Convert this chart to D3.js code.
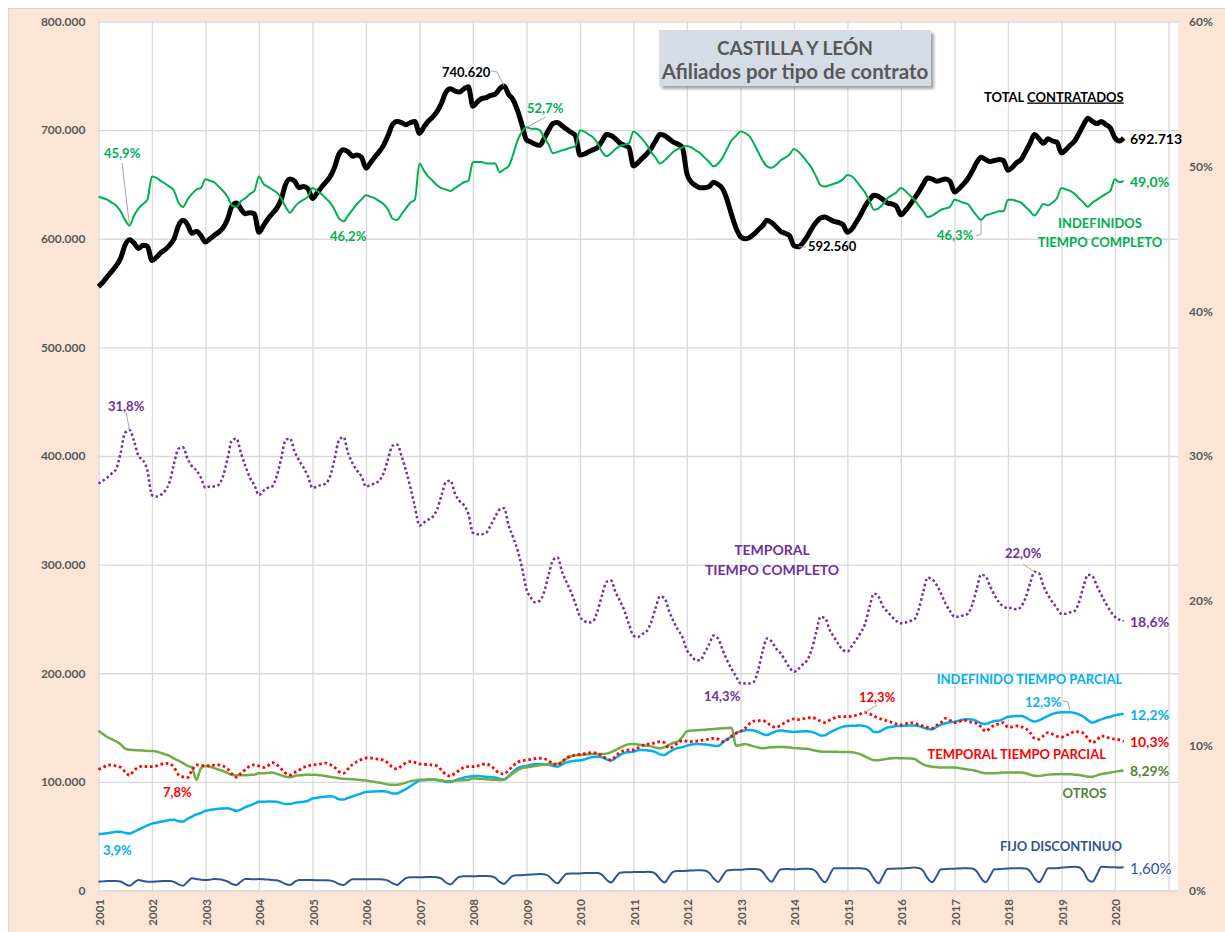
<!DOCTYPE html>
<html lang="es">
<head>
<meta charset="utf-8">
<title>Castilla y León - Afiliados por tipo de contrato</title>
<script src="https://cdn.jsdelivr.net/npm/d3@7"></script>
<style>
  body { margin: 0; background: #fff; }
  svg text { font-family: Lato, "Open Sans", sans-serif; }
</style>
</head>
<body>
<div id="chart"></div>
<script>
// -------------------------------------------------------------
// Datos mensuales, enero 2001 - marzo 2020
// -------------------------------------------------------------

// Total contratados (miles de afiliados), eje izquierdo
var totalContratados = [
  556, 560, 565, 570, 575, 582, 594, 599, 596, 591, 594, 593,
  580, 583, 587, 590, 594, 600, 612, 617, 613, 605, 607, 603,
  597, 600, 603, 606, 610, 618, 630, 633, 627, 623, 624, 623,
  606, 612, 618, 623, 628, 636, 650, 655, 653, 647, 648, 646,
  637, 642, 647, 652, 657, 666, 678, 682, 680, 676, 677, 675,
  665, 670, 675, 680, 686, 695, 705, 708, 707, 705, 707, 708,
  697, 703, 708, 712, 717, 725, 735, 738, 736, 735, 738, 740,
  722, 726, 729, 730, 732, 733, 738, 740.62, 733, 728, 718, 705,
  691, 689, 687, 686, 692, 700, 706, 707, 704, 701, 698, 695,
  677, 678, 680, 682, 684, 690, 696, 695, 692, 688, 686, 684,
  667, 670, 674, 678, 683, 690, 696, 695, 692, 689, 687, 684,
  660, 652, 649, 647, 647, 648, 652, 650, 646, 636, 622, 610,
  602, 600, 601, 604, 608, 612, 617, 615, 611, 607, 605, 603,
  593.5, 592.56, 596, 602, 609, 615, 619, 620, 618, 616, 615, 613,
  606, 609, 615, 622, 630, 636, 640, 639, 636, 633, 632, 630,
  622, 626, 631, 637, 643, 650, 656, 655, 653, 654, 655, 653,
  643, 646, 650, 655, 662, 670, 675, 673, 671, 672, 673, 672,
  663, 666, 670, 673, 680, 688, 696, 692, 688, 692, 690, 689,
  679, 682, 686, 690, 697, 705, 711, 708, 706, 708, 705, 702,
  693, 690, 692.713
];

// Porcentajes sobre el total (eje derecho)
var indefinidosTC = [
  47.9, 47.8, 47.7, 47.5, 47.3, 46.9, 46.3, 45.9, 46.6, 47.1, 47.4, 47.7,
  49.3, 49.2, 49.0, 48.8, 48.6, 48.3, 47.5, 47.2, 47.7, 48.1, 48.4, 48.5,
  49.1, 49.0, 48.9, 48.6, 48.3, 47.9, 47.3, 47.2, 47.6, 47.8, 48.1, 48.3,
  49.3, 48.8, 48.6, 48.4, 48.2, 47.8, 47.2, 46.8, 47.2, 47.5, 47.7, 47.9,
  48.5, 48.3, 48.1, 47.8, 47.5, 47.0, 46.4, 46.2, 46.6, 47.0, 47.4, 47.7,
  48.0, 47.9, 47.8, 47.6, 47.4, 47.0, 46.4, 46.3, 46.7, 47.1, 47.5, 47.7,
  50.2, 49.7, 49.3, 49.0, 48.7, 48.5, 48.4, 48.3, 48.5, 48.7, 48.9, 49.0,
  50.3, 50.3, 50.3, 50.2, 50.2, 50.2, 49.6, 49.8, 50.0, 50.8, 51.8, 52.4,
  52.7, 52.6, 52.6, 52.5, 52.0, 51.5, 50.9, 51.0, 51.1, 51.2, 51.3, 51.4,
  52.5, 52.4, 52.2, 52.0, 51.6, 51.0, 50.7, 50.9, 51.2, 51.4, 51.5, 51.6,
  52.4, 52.2, 51.9, 51.5, 51.0, 50.6, 50.2, 50.4, 50.7, 51.0, 51.2, 51.3,
  51.4, 51.3, 51.1, 50.9, 50.6, 50.3, 50.0, 50.2, 50.6, 51.2, 51.8, 52.1,
  52.4, 52.3, 52.1, 51.6, 51.0, 50.4, 50.0, 49.9, 50.1, 50.4, 50.6, 50.8,
  51.2, 51.0, 50.7, 50.3, 49.9, 49.3, 48.7, 48.6, 48.7, 48.8, 48.9, 49.1,
  49.4, 49.3, 49.0, 48.6, 48.2, 47.6, 47.0, 47.1, 47.4, 47.8, 48.0, 48.2,
  48.5, 48.3, 48.0, 47.7, 47.3, 46.9, 46.5, 46.6, 46.8, 47.0, 47.1, 47.2,
  47.7, 47.6, 47.5, 47.4, 47.0, 46.6, 46.3, 46.6, 46.7, 46.8, 46.9, 46.9,
  47.7, 47.7, 47.6, 47.5, 47.2, 46.9, 46.6, 47.0, 47.4, 47.3, 47.5, 47.8,
  48.5, 48.4, 48.3, 48.1, 47.8, 47.5, 47.2, 47.5, 47.7, 47.9, 48.1, 48.3,
  49.1, 48.9, 49.0
];

var temporalesTC = [
  28.1, 28.3, 28.5, 28.8, 29.1, 30.2, 31.6, 31.8, 31.0, 30.0, 29.7, 29.0,
  27.3, 27.2, 27.3, 27.6, 28.2, 29.5, 30.5, 30.6, 29.8, 29.3, 29.0, 28.5,
  27.8, 27.9, 27.9, 28.0, 28.6, 29.8, 31.1, 31.2, 30.2, 29.3, 28.5, 28.0,
  27.3, 27.6, 27.8, 27.9, 28.6, 29.8, 31.1, 31.2, 30.3, 29.7, 29.2, 28.6,
  27.8, 27.9, 28.0, 28.1, 28.6, 29.8, 31.1, 31.3, 30.2, 29.5, 29.0, 28.6,
  27.9, 28.0, 28.1, 28.3, 28.8, 29.8, 30.7, 30.8, 30.0, 29.0, 27.8, 26.5,
  25.2, 25.4, 25.6, 25.8, 26.3, 27.3, 28.2, 28.3, 27.4, 26.9, 26.6, 26.0,
  24.7, 24.6, 24.6, 24.7, 25.2, 25.8, 26.3, 26.4, 25.2, 24.4, 23.5, 22.3,
  20.8, 20.2, 19.9, 20.0, 20.6, 21.8, 22.8, 23.0, 22.0, 21.3, 20.6, 19.8,
  18.9, 18.6, 18.5, 18.6, 19.3, 20.4, 21.3, 21.4, 20.6, 20.0, 19.3, 18.4,
  17.6, 17.5, 17.7, 17.9, 18.5, 19.5, 20.3, 20.2, 19.3, 18.6, 18.0, 17.5,
  16.6, 16.2, 15.9, 15.9, 16.4, 17.0, 17.6, 17.4, 16.6, 15.9, 15.3, 14.8,
  14.3, 14.3, 14.3, 14.4, 15.2, 16.5, 17.4, 17.2, 16.7, 16.4, 15.9, 15.4,
  15.1, 15.3, 15.6, 15.9, 16.6, 17.8, 18.9, 18.8, 18.0, 17.5, 17.0, 16.6,
  16.5, 16.9, 17.3, 17.8, 18.4, 19.6, 20.5, 20.3, 19.6, 19.25, 18.9, 18.6,
  18.45, 18.5, 18.6, 18.7, 19.4, 20.6, 21.6, 21.5, 21.1, 20.5, 19.8, 19.3,
  18.9, 18.9, 19.0, 19.1, 19.7, 20.8, 21.8, 21.7, 21.0, 20.4, 19.9, 19.6,
  19.5, 19.5, 19.4, 19.6, 20.2, 21.2, 22.0, 21.9, 21.0, 20.4, 19.9, 19.5,
  19.1, 19.1, 19.2, 19.3, 19.9, 21.0, 21.8, 21.7, 21.0, 20.4, 19.8, 19.3,
  18.9, 18.7, 18.6
];

var indefinidosTP = [
  3.9, 3.92, 3.95, 4.0, 4.05, 4.05, 3.98, 3.93, 4.05, 4.2, 4.35, 4.5,
  4.62, 4.68, 4.74, 4.8, 4.86, 4.88, 4.78, 4.76, 4.95, 5.1, 5.25, 5.35,
  5.5, 5.56, 5.6, 5.64, 5.66, 5.68, 5.6, 5.5, 5.6, 5.75, 5.88, 6.0,
  6.12, 6.13, 6.14, 6.14, 6.13, 6.05, 5.97, 5.97, 6.05, 6.1, 6.13, 6.2,
  6.35, 6.4, 6.45, 6.48, 6.5, 6.45, 6.3, 6.28, 6.4, 6.5, 6.6, 6.7,
  6.8, 6.82, 6.84, 6.85, 6.85, 6.8, 6.7, 6.7, 6.85, 7.0, 7.2, 7.4,
  7.6, 7.62, 7.64, 7.65, 7.62, 7.58, 7.5, 7.5, 7.6, 7.7, 7.8, 7.85,
  7.9, 7.9, 7.88, 7.85, 7.83, 7.8, 7.72, 7.68, 7.9, 8.2, 8.45, 8.55,
  8.6, 8.68, 8.72, 8.74, 8.72, 8.68, 8.6, 8.55, 8.7, 8.85, 8.92, 8.96,
  8.98, 9.05, 9.15, 9.22, 9.24, 9.2, 9.05, 8.96, 9.15, 9.35, 9.5, 9.55,
  9.59, 9.68, 9.7, 9.68, 9.65, 9.55, 9.4, 9.36, 9.55, 9.72, 9.85, 9.9,
  10.0, 10.08, 10.12, 10.1, 10.08, 10.05, 10.0, 9.98, 10.2, 10.45, 10.62, 10.85,
  11.0, 11.05, 11.08, 11.05, 10.95, 10.8, 10.74, 10.85, 11.0, 11.05, 11.0, 10.98,
  10.95, 10.97, 10.98, 11.0, 10.95, 10.85, 10.7, 10.72, 10.9, 11.05, 11.2, 11.3,
  11.35, 11.37, 11.38, 11.4, 11.35, 11.2, 10.95, 10.95, 11.1, 11.25, 11.3, 11.35,
  11.36, 11.38, 11.4, 11.4, 11.35, 11.25, 11.15, 11.13, 11.3, 11.45, 11.55, 11.62,
  11.66, 11.72, 11.8, 11.82, 11.8, 11.7, 11.55, 11.5, 11.6, 11.7, 11.73, 11.85,
  12.0, 12.02, 12.04, 12.05, 11.95, 11.77, 11.66, 11.75, 11.9, 12.05, 12.2, 12.28,
  12.3, 12.3, 12.3, 12.25, 12.15, 12.0, 11.75, 11.59, 11.7, 11.82, 11.92, 12.0,
  12.1, 12.15, 12.2
];

var temporalesTP = [
  8.37, 8.5, 8.65, 8.67, 8.6, 8.5, 8.2, 7.95, 8.3, 8.5, 8.6, 8.55,
  8.55, 8.6, 8.7, 8.78, 8.75, 8.5, 8.0, 7.85, 7.8, 8.3, 8.67, 8.65,
  8.6, 8.62, 8.65, 8.67, 8.6, 8.4, 8.05, 7.82, 8.1, 8.35, 8.6, 8.67,
  8.6, 8.5, 8.6, 8.83, 8.7, 8.4, 8.1, 7.98, 8.15, 8.3, 8.5, 8.6,
  8.67, 8.7, 8.75, 8.8, 8.7, 8.5, 8.2, 8.1, 8.4, 8.7, 8.9, 9.05,
  9.15, 9.15, 9.1, 9.05, 9.0, 8.8, 8.5, 8.4, 8.6, 8.8, 8.9, 8.85,
  8.75, 8.7, 8.7, 8.65, 8.6, 8.3, 8.0, 7.9, 8.1, 8.3, 8.5, 8.55,
  8.55, 8.6, 8.7, 8.74, 8.6, 8.35, 8.1, 8.05, 8.3, 8.6, 8.85, 8.96,
  9.0, 9.05, 9.1, 9.13, 9.1, 8.95, 8.75, 8.67, 8.9, 9.15, 9.29, 9.35,
  9.4, 9.45, 9.5, 9.52, 9.45, 9.3, 9.1, 9.01, 9.25, 9.55, 9.65, 9.7,
  9.7, 9.85, 10.0, 10.1, 10.12, 10.2, 10.28, 10.2, 9.82, 9.95, 10.2, 10.35,
  10.3, 10.28, 10.3, 10.35, 10.4, 10.45, 10.51, 10.45, 10.28, 10.4, 10.65, 10.85,
  10.97, 11.2, 11.5, 11.7, 11.72, 11.73, 11.6, 11.35, 11.27, 11.4, 11.6, 11.75,
  11.85, 11.8, 11.85, 11.9, 11.95, 11.85, 11.7, 11.6, 11.75, 11.9, 12.0, 12.0,
  12.0, 12.05, 12.1, 12.2, 12.3, 12.2, 12.05, 11.9, 11.8, 11.7, 11.6, 11.5,
  11.43, 11.5, 11.59, 11.55, 11.45, 11.35, 11.27, 11.2, 11.4, 11.6, 11.89, 11.75,
  11.59, 11.65, 11.77, 11.7, 11.6, 11.55, 11.3, 11.0, 11.2, 11.43, 11.5, 11.59,
  11.27, 11.3, 11.36, 11.3, 11.2, 10.9, 10.5, 10.44, 10.7, 10.9, 10.8, 10.65,
  10.58, 10.7, 10.85, 10.97, 10.95, 10.86, 10.5, 10.2, 10.4, 10.67, 10.6, 10.5,
  10.45, 10.4, 10.3
];

var otros = [
  11.04, 10.8, 10.6, 10.45, 10.3, 10.1, 9.8, 9.72, 9.7, 9.68, 9.66, 9.64,
  9.63, 9.6, 9.5, 9.4, 9.3, 9.1, 8.96, 8.8, 8.6, 8.5, 7.63, 8.44,
  8.6, 8.55, 8.45, 8.35, 8.25, 8.1, 7.98, 7.95, 7.95, 7.96, 7.98, 8.0,
  8.09, 8.1, 8.12, 8.14, 8.05, 7.95, 7.85, 7.82, 7.9, 7.95, 7.98, 8.0,
  8.0, 7.98, 7.95, 7.9, 7.85, 7.8, 7.75, 7.72, 7.7, 7.68, 7.65, 7.62,
  7.6, 7.55, 7.5, 7.45, 7.38, 7.32, 7.3, 7.3, 7.35, 7.45, 7.55, 7.6,
  7.65, 7.65, 7.66, 7.68, 7.65, 7.6, 7.55, 7.55, 7.58, 7.6, 7.62, 7.63,
  7.75, 7.72, 7.7, 7.68, 7.66, 7.64, 7.63, 7.65, 7.85, 8.1, 8.3, 8.45,
  8.5, 8.55, 8.6, 8.65, 8.7, 8.72, 8.74, 8.76, 8.9, 9.1, 9.25, 9.33,
  9.36, 9.38, 9.4, 9.42, 9.43, 9.43, 9.45, 9.55, 9.7, 9.85, 10.0, 10.1,
  10.12, 10.08, 10.05, 10.0, 9.95, 9.88, 9.82, 9.9, 10.05, 10.2, 10.28, 10.6,
  11.0, 11.04, 11.06, 11.08, 11.1, 11.13, 11.15, 11.18, 11.2, 11.22, 11.24, 10.0,
  10.05, 10.12, 10.05, 9.95, 9.88, 9.82, 9.85, 9.89, 9.9, 9.9, 9.9, 9.88,
  9.84, 9.82, 9.8, 9.78, 9.72, 9.65, 9.6, 9.58, 9.58, 9.58, 9.57, 9.56,
  9.56, 9.55, 9.5, 9.4, 9.25, 9.1, 9.0, 9.0, 9.05, 9.1, 9.13, 9.14,
  9.13, 9.13, 9.12, 9.1, 8.9, 8.7, 8.6, 8.55, 8.52, 8.5, 8.5, 8.5,
  8.5, 8.45, 8.4, 8.35, 8.32, 8.25, 8.15, 8.1, 8.09, 8.1, 8.12, 8.14,
  8.14, 8.15, 8.15, 8.14, 8.1, 8.0, 7.92, 7.9, 7.95, 8.0, 8.02, 8.03,
  8.04, 8.03, 8.02, 8.0, 7.98, 7.92, 7.86, 7.86, 7.95, 8.04, 8.1, 8.14,
  8.2, 8.25, 8.29
];

var fijosDiscontinuos = [
  0.61, 0.63, 0.65, 0.66, 0.66, 0.62, 0.45, 0.33, 0.55, 0.72, 0.66, 0.61,
  0.61, 0.62, 0.64, 0.66, 0.66, 0.6, 0.42, 0.33, 0.6, 0.84, 0.8, 0.75,
  0.72, 0.75, 0.79, 0.77, 0.72, 0.62, 0.45, 0.38, 0.62, 0.79, 0.79, 0.78,
  0.79, 0.77, 0.76, 0.72, 0.7, 0.6, 0.45, 0.38, 0.6, 0.72, 0.72, 0.72,
  0.72, 0.71, 0.7, 0.7, 0.69, 0.6, 0.45, 0.38, 0.6, 0.77, 0.77, 0.77,
  0.77, 0.77, 0.77, 0.77, 0.76, 0.68, 0.5, 0.38, 0.62, 0.85, 0.92, 0.92,
  0.92, 0.92, 0.93, 0.93, 0.92, 0.82, 0.55, 0.42, 0.7, 0.95, 0.98, 0.98,
  0.98, 0.99, 1.0, 1.0, 0.98, 0.88, 0.6, 0.45, 0.75, 1.02, 1.05, 1.06,
  1.08, 1.1, 1.12, 1.14, 1.12, 1.0, 0.7, 0.5, 0.85, 1.15, 1.18, 1.18,
  1.18, 1.2, 1.2, 1.21, 1.2, 1.08, 0.75, 0.55, 0.9, 1.22, 1.26, 1.26,
  1.27, 1.28, 1.28, 1.29, 1.28, 1.15, 0.8, 0.55, 0.95, 1.3, 1.34, 1.35,
  1.36, 1.38, 1.4, 1.4, 1.38, 1.22, 0.85, 0.58, 1.0, 1.38, 1.42, 1.43,
  1.44, 1.46, 1.48, 1.48, 1.46, 1.3, 0.88, 0.6, 1.05, 1.45, 1.48, 1.48,
  1.46, 1.48, 1.5, 1.5, 1.48, 1.3, 0.85, 0.57, 1.05, 1.53, 1.53, 1.53,
  1.53, 1.53, 1.53, 1.53, 1.5, 1.3, 0.82, 0.5, 1.0, 1.48, 1.5, 1.52,
  1.52, 1.54, 1.56, 1.58, 1.55, 1.35, 0.85, 0.57, 1.0, 1.46, 1.48, 1.5,
  1.5, 1.52, 1.53, 1.53, 1.52, 1.33, 0.85, 0.57, 1.0, 1.46, 1.48, 1.5,
  1.52, 1.53, 1.53, 1.53, 1.52, 1.33, 0.85, 0.57, 1.0, 1.53, 1.53, 1.54,
  1.58, 1.6, 1.62, 1.64, 1.6, 1.3, 0.75, 0.61, 1.1, 1.64, 1.63, 1.6,
  1.6, 1.58, 1.6
];

// Marcas de los ejes
var leftTicks = [0, 100, 200, 300, 400, 500, 600, 700, 800];   // miles
var rightTicks = [0, 10, 20, 30, 40, 50, 60];                   // %
var yearLabels = d3.range(2001, 2021);

// -------------------------------------------------------------
// Dimensiones
// -------------------------------------------------------------
var svgWidth = 1225;
var svgHeight = 932;

var plot = { left: 98.5, top: 21.5, right: 1178, bottom: 890.5 };

var svg = d3.select('#chart')
  .append('svg')
  .attr('width', svgWidth)
  .attr('height', svgHeight);

// sombra del cuadro de título
var defs = svg.append('defs');
defs.append('filter')
  .attr('id', 'shadow')
  .attr('x', '-10%').attr('y', '-10%').attr('width', '130%').attr('height', '140%')
  .append('feDropShadow')
  .attr('dx', 3).attr('dy', 3).attr('stdDeviation', 1.5)
  .attr('flood-color', '#7f7f7f').attr('flood-opacity', 0.7);

// fondo del área del gráfico
svg.append('rect')
  .attr('x', 8.5).attr('y', 8.5)
  .attr('width', svgWidth).attr('height', svgHeight)
  .attr('fill', '#fbe5d6')
  .attr('stroke', '#d9d9d9');

svg.append('rect')
  .attr('x', plot.left).attr('y', plot.top)
  .attr('width', plot.right - plot.left)
  .attr('height', plot.bottom - plot.top)
  .attr('fill', '#ffffff');

// -------------------------------------------------------------
// Escalas
// -------------------------------------------------------------
var months = totalContratados.map(function(d, i) { return new Date(2001, i, 1); });

var xScale = d3.scaleTime()
  .domain([new Date(2001, 0, 1), new Date(2021, 0, 1)])
  .range([plot.left, 1168.5]);

var yLeft = d3.scaleLinear().domain([0, 800]).range([plot.bottom, plot.top]);
var yRight = d3.scaleLinear().domain([0, 60]).range([plot.bottom, plot.top]);

var es = d3.formatLocale({ decimal: ',', thousands: '.', grouping: [3], currency: ['', ' €'] });
var fmtMiles = es.format(',.0f');

// -------------------------------------------------------------
// Rejilla y ejes
// -------------------------------------------------------------
var grid = svg.append('g').attr('class', 'grid');

grid.append('g')
  .attr('transform', 'translate(' + plot.left + ',0)')
  .call(d3.axisLeft(yLeft).tickValues(leftTicks).tickSize(-(plot.right - plot.left)).tickFormat(''))
  .call(function(g) { g.select('.domain').remove(); })
  .selectAll('line').attr('stroke', '#d9d9d9').attr('stroke-width', 1.3);

grid.append('g')
  .attr('transform', 'translate(0,' + plot.bottom + ')')
  .call(d3.axisBottom(xScale)
    .tickValues(d3.range(2001, 2022).map(function(y) { return new Date(y, 0, 1); }))
    .tickSize(-(plot.bottom - plot.top)).tickFormat(''))
  .call(function(g) { g.select('.domain').remove(); })
  .selectAll('line').attr('stroke', '#d9d9d9').attr('stroke-width', 1.3);

// eje izquierdo
svg.append('g')
  .attr('transform', 'translate(' + plot.left + ',0)')
  .call(d3.axisLeft(yLeft).tickValues(leftTicks).tickSize(0).tickPadding(13)
    .tickFormat(function(d) { return fmtMiles(d * 1000); }))
  .call(function(g) { g.select('.domain').remove(); })
  .selectAll('text')
  .attr('fill', '#595959').attr('font-size', 12).attr('font-weight', 'bold')
  .attr('font-family', 'Lato, sans-serif');

// eje derecho
svg.append('g')
  .attr('transform', 'translate(1189,0)')
  .call(d3.axisRight(yRight).tickValues(rightTicks).tickSize(0).tickPadding(0)
    .tickFormat(function(d) { return d + '%'; }))
  .call(function(g) { g.select('.domain').remove(); })
  .selectAll('text')
  .attr('fill', '#595959').attr('font-size', 12).attr('font-weight', 'bold')
  .attr('font-family', 'Lato, sans-serif');

// etiquetas de los años, giradas
svg.append('g')
  .selectAll('text')
  .data(yearLabels)
  .enter()
  .append('text')
  .attr('transform', function(d) {
    return 'translate(' + (xScale(new Date(d, 0, 1)) + 5.5) + ',899) rotate(-90)';
  })
  .attr('text-anchor', 'end')
  .attr('fill', '#595959')
  .attr('font-size', 11.5)
  .attr('font-weight', 'bold')
  .text(function(d) { return d; });

// -------------------------------------------------------------
// Series
// -------------------------------------------------------------
var series = [
  { key: 'total', values: totalContratados, scale: yLeft, color: '#000000', width: 5 },
  { key: 'indefTC', values: indefinidosTC, scale: yRight, color: '#00b050', width: 2 },
  { key: 'tempTC', values: temporalesTC, scale: yRight, color: '#7030a0', width: 2.5, dash: '2.5,2.5' },
  { key: 'indefTP', values: indefinidosTP, scale: yRight, color: '#00b0f0', width: 2.5 },
  { key: 'otros', values: otros, scale: yRight, color: '#70ad47', width: 2.5 },
  { key: 'tempTP', values: temporalesTP, scale: yRight, color: '#ff0000', width: 2.8, dash: '2.6,2.8' },
  { key: 'fijoDisc', values: fijosDiscontinuos, scale: yRight, color: '#2f5597', width: 2 }
];

var linesGroup = svg.append('g');

series.forEach(function(s) {
  var line = d3.line()
    .x(function(d, i) { return xScale(months[i]); })
    .y(function(d) { return s.scale(d); })
    .curve(d3.curveMonotoneX);

  linesGroup.append('path')
    .datum(s.values)
    .attr('d', line)
    .attr('fill', 'none')
    .attr('stroke', s.color)
    .attr('stroke-width', s.width)
    .attr('stroke-linejoin', 'round')
    .attr('stroke-dasharray', s.dash || null);
});

function point(values, scale, i) {
  return [xScale(months[i]), scale(values[i])];
}

// líneas guía de las etiquetas de datos
var leaders = [
  { pts: [[122, 163]], values: indefinidosTC, scale: yRight, i: 7 },
  { pts: [[491, 71], [497, 72]], values: totalContratados, scale: yLeft, i: 91 },
  { pts: [[546, 117]], values: indefinidosTC, scale: yRight, i: 96 },
  { pts: [[806, 247]], values: totalContratados, scale: yLeft, i: 157 },
  { pts: [[976, 236], [981, 234]], values: indefinidosTC, scale: yRight, i: 198 },
  { pts: [[126, 412]], values: temporalesTC, scale: yRight, i: 7 },
  { pts: [[1023, 564]], values: temporalesTC, scale: yRight, i: 210 },
  { pts: [[877, 705]], values: temporalesTP, scale: yRight, i: 172 },
  { pts: [[1063, 701], [1068, 702]], values: indefinidosTP, scale: yRight, i: 218 }
];

svg.append('g')
  .selectAll('polyline')
  .data(leaders)
  .enter()
  .append('polyline')
  .attr('points', function(d) {
    return d.pts.concat([point(d.values, d.scale, d.i)]).join(' ');
  })
  .attr('fill', 'none')
  .attr('stroke', '#a6a6a6')
  .attr('stroke-width', 1);

// -------------------------------------------------------------
// Textos
// -------------------------------------------------------------
var labels = [
  { t: '45,9%', x: 104, y: 158, c: '#00b050' },
  { t: '46,2%', x: 330, y: 241, c: '#00b050' },
  { t: '740.620', x: 442, y: 77, c: '#000000' },
  { t: '52,7%', x: 527, y: 113, c: '#00b050' },
  { t: '592.560', x: 808, y: 251, c: '#000000' },
  { t: '692.713', x: 1130, y: 144, c: '#000000', s: 14 },
  { t: '49,0%', x: 1130, y: 187, c: '#00b050', s: 14 },
  { t: 'INDEFINIDOS', x: 1100, y: 228, c: '#00b050', a: 'middle' },
  { t: 'TIEMPO COMPLETO', x: 1100, y: 246.5, c: '#00b050', a: 'middle' },
  { t: '46,3%', x: 937, y: 240, c: '#00b050' },
  { t: '31,8%', x: 108, y: 411, c: '#7030a0' },
  { t: 'TEMPORAL', x: 772, y: 555, c: '#7030a0', a: 'middle', s: 14 },
  { t: 'TIEMPO COMPLETO', x: 772, y: 575, c: '#7030a0', a: 'middle', s: 14 },
  { t: '14,3%', x: 704, y: 701, c: '#7030a0' },
  { t: '22,0%', x: 1005, y: 558, c: '#7030a0' },
  { t: '18,6%', x: 1130, y: 627, c: '#7030a0', s: 14 },
  { t: '12,3%', x: 859, y: 702, c: '#ff0000' },
  { t: 'INDEFINIDO TIEMPO PARCIAL', x: 1029.5, y: 684, c: '#00b0f0', a: 'middle' },
  { t: '12,3%', x: 1025, y: 706.5, c: '#00b0f0' },
  { t: '12,2%', x: 1130, y: 720, c: '#00b0f0', s: 14 },
  { t: '10,3%', x: 1130, y: 747, c: '#ff0000', s: 14 },
  { t: 'TEMPORAL TIEMPO PARCIAL', x: 1016.7, y: 759, c: '#ff0000', a: 'middle' },
  { t: '8,29%', x: 1130, y: 776, c: '#548235', s: 14 },
  { t: 'OTROS', x: 1084.5, y: 798, c: '#548235', a: 'middle' },
  { t: '7,8%', x: 163, y: 796.5, c: '#ff0000' },
  { t: '3,9%', x: 103, y: 855, c: '#00b0f0' },
  { t: 'FIJO DISCONTINUO', x: 1061, y: 851, c: '#2f5597', a: 'middle' },
  { t: '1,60%', x: 1130, y: 873.5, c: '#2f5597', s: 15, w: 'normal' }
];

svg.append('g')
  .selectAll('text')
  .data(labels)
  .enter()
  .append('text')
  .attr('x', function(d) { return d.x; })
  .attr('y', function(d) { return d.y; })
  .attr('text-anchor', function(d) { return d.a || 'start'; })
  .attr('fill', function(d) { return d.c; })
  .attr('font-size', function(d) { return d.s || 13; })
  .attr('font-weight', function(d) { return d.w || 'bold'; })
  .text(function(d) { return d.t; });

// TOTAL CONTRATADOS (subrayado)
var totalLabel = svg.append('text')
  .attr('x', 984).attr('y', 101.5)
  .attr('fill', '#000000').attr('font-size', 13).attr('font-weight', 'bold');
totalLabel.append('tspan').text('TOTAL ');
totalLabel.append('tspan').attr('text-decoration', 'underline').text('CONTRATADOS');

// cuadro de título
var titleGroup = svg.append('g');
titleGroup.append('rect')
  .attr('x', 659).attr('y', 30)
  .attr('width', 272).attr('height', 56)
  .attr('fill', '#d6dce5')
  .attr('filter', 'url(#shadow)');
titleGroup.append('text')
  .attr('x', 795).attr('y', 55)
  .attr('text-anchor', 'middle').attr('fill', '#595959')
  .attr('font-size', 19).attr('font-weight', 'bold')
  .text('CASTILLA Y LEÓN');
titleGroup.append('text')
  .attr('x', 795).attr('y', 79)
  .attr('text-anchor', 'middle').attr('fill', '#595959')
  .attr('font-size', 20.5).attr('font-weight', 'bold')
  .text('Afiliados por tipo de contrato');
</script>
</body>
</html>
